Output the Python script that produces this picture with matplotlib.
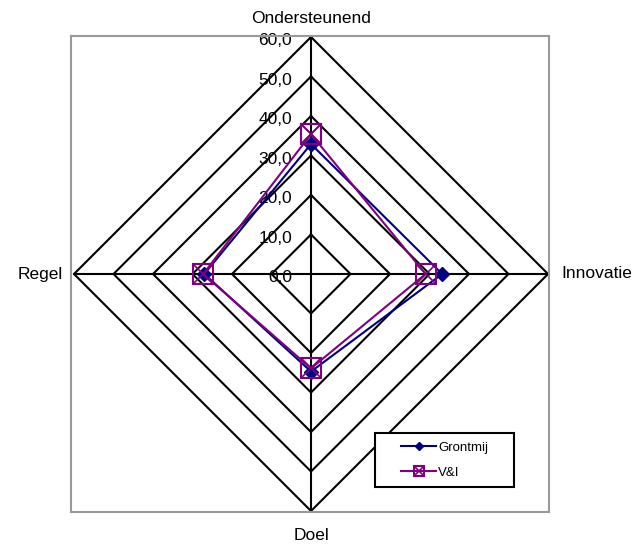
import numpy as np
import matplotlib.pyplot as plt
from matplotlib.legend_handler import HandlerTuple
from matplotlib.patches import Rectangle

plt.rcParams['font.family'] = ['Liberation Sans', 'DejaVu Sans']

categories = ["Ondersteunend", "Innovatie", "Doel", "Regel"]
grontmij = [32.9, 33.2, 24.7, 27.0]
vi = [35.4, 29.0, 23.9, 27.3]
levels = [0, 10, 20, 30, 40, 50, 60]
level_labels = ["0,0", "10,0", "20,0", "30,0", "40,0", "50,0", "60,0"]

# spokes: top, right, bottom, left (clockwise)
angles = np.array([90, 0, -90, 180]) * np.pi / 180


def to_xy(vals):
    vals = np.asarray(vals, dtype=float)
    x = vals * np.cos(angles)
    y = vals * np.sin(angles)
    return np.append(x, x[0]), np.append(y, y[0])


fig = plt.figure(figsize=(6.33, 5.44), dpi=100)
ax = fig.add_axes([71 / 633, 1 - 512 / 544, 478 / 633, 476 / 544])
ax.set_xlim(-60.76, 60.25)
ax.set_ylim(-60.25, 60.25)
ax.set_xticks([])
ax.set_yticks([])
for s in ax.spines.values():
    s.set_color("#999999")
    s.set_linewidth(1.5)

# diamond grid and spokes
for lv in levels[1:]:
    gx, gy = to_xy([lv] * 4)
    ax.plot(gx, gy, color="black", lw=1.5, zorder=1)
for a in angles:
    ax.plot([0, 60 * np.cos(a)], [0, 60 * np.sin(a)], color="black", lw=1.5, zorder=1)

# value labels along the top spoke
for lv, lab in zip(levels, level_labels):
    ax.text(-4.8, lv - 1.0, lab, ha="right", va="center", fontsize=12.5, zorder=2)

# series
gx, gy = to_xy(grontmij)
l1, = ax.plot(gx, gy, color="#000080", lw=1.5, marker="D", markersize=7,
              markerfacecolor="#000080", markeredgecolor="#000080", zorder=3)
vx, vy = to_xy(vi)
l2, = ax.plot(vx, vy, color="#800080", lw=1.5, marker="s", markersize=14,
              markerfacecolor="none", markeredgecolor="#800080", markeredgewidth=1.5, zorder=4)
l3, = ax.plot(vx, vy, ls="none", marker="x", markersize=13, color="#800080",
              markeredgewidth=1.2, zorder=4)

# category labels at spoke ends
ax.text(0, 64.6, categories[0], ha="center", va="center", fontsize=12.5, clip_on=False)
ax.text(63.3, 0, categories[1], ha="left", va="center", fontsize=12.5, clip_on=False)
ax.text(0, -66.1, categories[2], ha="center", va="center", fontsize=12.5, clip_on=False)
ax.text(-62.8, 0, categories[3], ha="right", va="center", fontsize=12.5, clip_on=False)

# legend box
box = (375 / 633, 1 - 487 / 544, 139 / 633, 54 / 544)
ax.add_patch(Rectangle(box[:2], box[2], box[3], transform=fig.transFigure, clip_on=False,
                       facecolor="white", edgecolor="black", lw=1.5, zorder=5))
leg = ax.legend([l1, (l2, l3)], ["Grontmij", "V&I"],
                handler_map={tuple: HandlerTuple(ndivide=1, pad=0)},
                loc="center", bbox_to_anchor=box, bbox_transform=fig.transFigure,
                fontsize=9.5, markerscale=0.55, frameon=False,
                handlelength=2.65, handletextpad=0.15, borderpad=0.3, labelspacing=0.95)
leg.set_zorder(6)

fig.savefig("out.png", dpi=100)
